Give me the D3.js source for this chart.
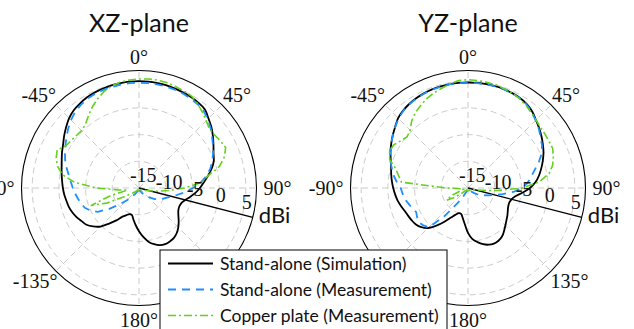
<!DOCTYPE html>
<html>
<head>
<meta charset="utf-8">
<script src="https://cdn.jsdelivr.net/npm/d3@7"></script>
<style>
  body { margin: 0; background: #fff; }
  svg { display: block; }
  .serif { font-family: "Liberation Serif", "Times New Roman", "DejaVu Serif", serif; }
  .sans { font-family: Lato, "Open Sans", "DejaVu Sans", sans-serif; }
</style>
</head>
<body>
<svg id="chart" width="634" height="329"></svg>
<script>
// Azimuth samples (degrees, clockwise from the top), shared by all series
const angles = [
  -180, -175, -170, -165, -160, -155, -150, -145, -140, -135, -130, -125,
  -120, -115, -110, -105, -100, -95, -90, -85, -80, -75, -70, -65,
  -60, -55, -50, -45, -40, -35, -30, -25, -20, -15, -10, -5,
  0, 5, 10, 15, 20, 25, 30, 35, 40, 45, 50, 55,
  60, 65, 70, 75, 80, 85, 90, 95, 100, 105, 110, 115,
  120, 125, 130, 135, 140, 145, 150, 155, 160, 165, 170, 175
];

// XZ-plane gain (dBi)
const xzSimulation = [
  -6.9, -8.0, -9.0, -9.8, -9.8, -9.4, -8.8, -7.6, -6.3, -4.8, -3.8, -3.0,
  -2.6, -2.1, -1.7, -1.4, -1.2, -0.95, -0.75, -0.55, -0.3, 0.0, 0.4, 0.9,
  1.4, 2.1, 2.8, 3.5, 4.0, 4.3, 4.55, 4.7, 4.8, 4.9, 4.95, 5.0,
  5.0, 5.0, 4.95, 4.9, 4.8, 4.7, 4.6, 4.45, 4.2, 3.4, 2.7, 1.9,
  1.1, 0.4, -0.1, -0.9, -1.9, -2.8, -3.6, -4.4, -5.3, -6.1, -6.6, -6.7,
  -6.5, -6.0, -5.3, -4.6, -4.0, -3.6, -3.45, -3.4, -3.6, -4.1, -4.8, -5.8
];
const xzMeasured = [
  -14.5, -14.5, -14.5, -14.5, -14.5, -14.3, -14.0, -13.5, -12.8, -11.7, -10.2, -8.2,
  -6.1, -5.0, -4.2, -3.8, -3.4, -3.0, -2.6, -2.2, -1.7, -1.0, -0.3, 0.3,
  0.9, 1.6, 2.3, 3.0, 3.6, 4.0, 4.3, 4.45, 4.55, 4.6, 4.65, 4.7,
  4.7, 4.7, 4.7, 4.65, 4.6, 4.5, 4.35, 4.15, 3.85, 3.2, 2.5, 1.7,
  1.0, 0.3, -0.4, -1.2, -2.2, -3.4, -4.9, -6.3, -7.7, -8.8, -9.6, -10.2,
  -10.7, -11.4, -12.1, -12.7, -13.2, -13.6, -14.0, -14.3, -14.5, -14.5, -14.5, -14.5
];
const xzCopper = [
  -14.5, -14.5, -14.5, -14.5, -14.5, -14.5, -14.5, -14.5, -14.3, -14.0, -13.6, -13.0,
  -11.5, -8.3, -5.5, -9.5, -12.8, -11.0, -7.0, -2.9, -0.4, 0.8, 1.5, 1.9,
  0.8, 0.5, 0.3, 0.2, 0.6, 1.5, 2.5, 3.4, 4.2, 4.8, 5.1, 5.3,
  5.4, 5.5, 5.5, 5.4, 5.2, 5.0, 4.8, 4.2, 3.5, 2.8, 2.2, 2.3,
  2.6, 2.9, 2.0, 0.6, -1.9, -3.2, -6.5, -9.5, -11.5, -13.0, -13.6, -14.0,
  -14.3, -14.5, -14.5, -14.5, -14.5, -14.5, -14.5, -14.5, -14.5, -14.5, -14.5, -14.5
];

// YZ-plane gain (dBi)
const yzSimulation = [
  -6.6, -8.2, -9.3, -10.0, -10.0, -9.5, -8.6, -7.3, -5.8, -4.4, -3.6, -3.1,
  -2.85, -2.65, -2.4, -2.0, -1.6, -1.3, -1.0, -0.7, -0.4, -0.1, 0.4, 1.0,
  1.6, 2.2, 2.8, 3.5, 3.9, 4.2, 4.4, 4.55, 4.65, 4.7, 4.75, 4.75,
  4.75, 4.75, 4.75, 4.75, 4.7, 4.6, 4.45, 4.2, 3.7, 3.0, 2.4, 1.8,
  1.2, 0.6, -0.1, -0.8, -1.5, -2.3, -3.4, -4.8, -6.0, -6.6, -6.8, -6.7,
  -6.4, -6.0, -5.6, -5.1, -4.5, -3.9, -3.6, -3.5, -3.7, -4.1, -4.7, -5.4
];
const yzMeasured = [
  -14.5, -14.5, -14.5, -14.5, -14.5, -14.0, -13.0, -11.5, -8.0, -4.6, -4.1, -3.8,
  -4.0, -4.3, -3.9, -3.5, -3.0, -2.7, -2.4, -1.6, -0.8, -0.2, 0.5, 1.1,
  1.6, 2.2, 2.8, 3.4, 3.85, 4.15, 4.35, 4.5, 4.6, 4.65, 4.7, 4.7,
  4.7, 4.7, 4.7, 4.7, 4.65, 4.55, 4.4, 4.1, 3.6, 2.9, 2.3, 1.6,
  1.0, 0.2, -0.9, -2.1, -3.0, -3.8, -4.9, -6.5, -8.4, -10.0, -11.0, -11.8,
  -12.4, -13.0, -13.5, -14.0, -14.5, -14.5, -14.5, -14.5, -14.5, -14.5, -14.5, -14.5
];
const yzCopper = [
  -14.5, -14.5, -14.5, -14.5, -14.5, -14.5, -14.5, -14.5, -14.5, -14.2, -13.5, -12.0,
  -10.4, -11.5, -13.5, -14.2, -14.0, -13.5, -11.0, -2.5, -1.8, -1.0, 0.6, 1.2,
  1.1, 0.4, -0.1, 0.3, 1.4, 2.2, 2.8, 3.4, 3.9, 4.3, 4.8, 5.2,
  5.3, 5.2, 5.1, 5.0, 4.8, 4.6, 4.3, 3.9, 3.4, 3.0, 2.7, 2.6,
  2.5, 2.5, 2.0, 1.4, 0.4, -1.6, -4.8, -9.5, -12.5, -14.0, -14.5, -14.5,
  -14.5, -14.5, -14.5, -14.5, -14.5, -14.5, -14.5, -14.5, -14.5, -14.5, -14.5, -14.5
];

const planeTitles = ["XZ-plane", "YZ-plane"];
const seriesNames = [
  "Stand-alone (Simulation)",
  "Stand-alone (Measurement)",
  "Copper plate (Measurement)"
];
const angleTicks = [0, 45, 90, 135, 180, -135, -90, -45];
const angleTickLabels = ["0°", "45°", "90°", "135°", "180°", "-135°", "-90°", "-45°"];
const gainTicks = [-15, -10, -5, 0, 5];
const gainUnit = "dBi";

const planes = [
  { title: planeTitles[0], series: [xzSimulation, xzMeasured, xzCopper] },
  { title: planeTitles[1], series: [yzSimulation, yzMeasured, yzCopper] }
];

const styles = [
  { color: "#000000", dash: null, width: 1.8, curve: d3.curveCatmullRomClosed.alpha(0.5) },
  { color: "#1e8fff", dash: "8,6", width: 1.8, curve: d3.curveLinearClosed },
  { color: "#63d11d", dash: "8,3,2,3", width: 1.6, curve: d3.curveLinearClosed }
];

const svg = d3.select("#chart");
const outerR = 117.5;
const r = d3.scaleLinear().domain([-15, 7]).range([0, outerR]).clamp(true);
const centers = [[139, 188], [468, 188]];
const gridRings = [-10, -5, 0, 5];
const spokes = d3.range(0, 360, 45);
const axisAngle = 104.5;
const rad = d => d * Math.PI / 180;

planes.forEach((plane, i) => {
  const [cx, cy] = centers[i];
  const g = svg.append("g").attr("transform", `translate(${cx},${cy})`);

  // title
  svg.append("text")
    .attr("class", "sans")
    .attr("x", cx).attr("y", 32)
    .attr("text-anchor", "middle")
    .attr("font-size", 25)
    .attr("fill", "#111")
    .text(plane.title);

  // dashed grid: rings and spokes
  g.selectAll("circle.ring").data(gridRings).join("circle")
    .attr("class", "ring")
    .attr("r", d => r(d))
    .attr("fill", "none")
    .attr("stroke", "#c4c4c4").attr("stroke-width", 0.9)
    .attr("stroke-dasharray", "6,4");
  g.selectAll("line.spoke").data(spokes).join("line")
    .attr("class", "spoke")
    .attr("x1", 0).attr("y1", 0)
    .attr("x2", d => outerR * Math.sin(rad(d)))
    .attr("y2", d => -outerR * Math.cos(rad(d)))
    .attr("stroke", "#c4c4c4").attr("stroke-width", 0.9)
    .attr("stroke-dasharray", "6,4");

  // outer boundary
  g.append("circle").attr("r", outerR)
    .attr("fill", "none").attr("stroke", "#000").attr("stroke-width", 1.1);

  // radial axis line
  g.append("line")
    .attr("x1", 0).attr("y1", 0)
    .attr("x2", outerR * Math.sin(rad(axisAngle)))
    .attr("y2", -outerR * Math.cos(rad(axisAngle)))
    .attr("stroke", "#000").attr("stroke-width", 1.3);

  // pattern curves
  plane.series.forEach((vals, k) => {
    const st = styles[k];
    const line = d3.lineRadial()
      .angle((d, j) => rad(angles[j]))
      .radius(d => r(d))
      .curve(st.curve);
    g.append("path")
      .attr("d", line(vals))
      .attr("fill", "none")
      .attr("stroke", st.color)
      .attr("stroke-width", st.width)
      .attr("stroke-dasharray", st.dash)
      .attr("stroke-linejoin", "round");
  });

  // angle tick labels outside the boundary
  angleTicks.forEach((a, k) => {
    const t = g.append("text")
      .attr("class", "serif")
      .attr("font-size", 20)
      .attr("fill", "#111")
      .attr("text-anchor", "middle")
      .attr("dominant-baseline", "central")
      .text(angleTickLabels[k]);
    const w = t.node().getComputedTextLength();
    const s = Math.sin(rad(a)), c = Math.cos(rad(a));
    const x = (outerR + 7) * s + s * w / 2;
    const y = -(outerR + 7) * c - c * 7;
    t.attr("x", x).attr("y", y);
  });

  // gain tick labels along the radial axis
  const ux = Math.sin(rad(axisAngle)), uy = -Math.cos(rad(axisAngle));
  const nx = uy, ny = -ux;
  gainTicks.forEach(v => {
    g.append("text")
      .attr("class", "serif")
      .attr("x", r(v) * ux + 13 * nx + 1)
      .attr("y", r(v) * uy + 13 * ny)
      .attr("font-size", 20)
      .attr("fill", "#111")
      .attr("text-anchor", "middle")
      .attr("dominant-baseline", "central")
      .text(v);
  });

  // unit label at the end of the axis
  g.append("text")
    .attr("class", "sans")
    .attr("x", outerR * ux + 6)
    .attr("y", outerR * uy + 6)
    .attr("font-size", 22)
    .attr("fill", "#111")
    .attr("text-anchor", "start")
    .text(gainUnit);
});

// legend
const lg = svg.append("g").attr("transform", "translate(160,250)");
lg.append("rect")
  .attr("x", 0).attr("y", 0).attr("width", 287).attr("height", 95)
  .attr("fill", "#fff").attr("stroke", "#000").attr("stroke-width", 1);
seriesNames.forEach((name, k) => {
  const y = 13.5 + k * 26;
  const st = styles[k];
  lg.append("line")
    .attr("x1", 8).attr("x2", 53).attr("y1", y).attr("y2", y)
    .attr("stroke", st.color).attr("stroke-width", st.width)
    .attr("stroke-dasharray", st.dash);
  lg.append("text")
    .attr("class", "sans")
    .attr("x", 60).attr("y", y)
    .attr("dominant-baseline", "central")
    .attr("font-size", 17.5)
    .attr("fill", "#111")
    .text(name);
});
</script>
</body>
</html>
